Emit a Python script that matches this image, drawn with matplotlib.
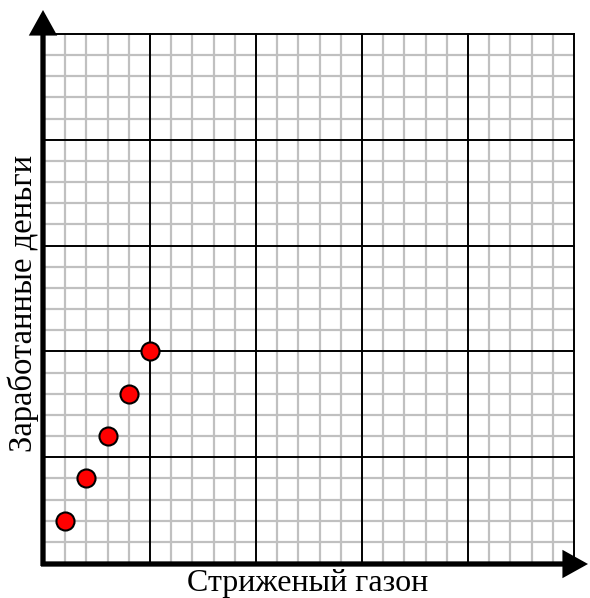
import matplotlib
matplotlib.use("Agg")
import matplotlib.pyplot as plt

# lawns mowed vs money earned
lawns = [1, 2, 3, 4, 5]
money = [2, 4, 6, 8, 10]
n_cells = 25
major_step = 5

W, H = 590, 598
fig = plt.figure(figsize=(W / 100, H / 100), dpi=100)
x0, x1, y0, y1 = 44, 574, 563, 34
ax = fig.add_axes([x0 / W, 1 - y0 / H, (x1 - x0) / W, (y0 - y1) / H])
ax.set_xlim(0, n_cells)
ax.set_ylim(0, n_cells)

for i in range(n_cells + 1):
    if i % major_step == 0:
        continue
    ax.axvline(i, color="#c0c0c0", lw=1.6, zorder=1)
    ax.axhline(i, color="#c0c0c0", lw=1.6, zorder=1)
for i in range(0, n_cells + 1, major_step):
    ax.axvline(i, color="black", lw=1.4, zorder=2, clip_on=False)
    ax.axhline(i, color="black", lw=1.4, zorder=2, clip_on=False)

ax.plot(lawns, money, "o", ms=13, mfc="#ff0000", mec="black", mew=1.5,
        zorder=5, clip_on=False)

for s in ax.spines.values():
    s.set_visible(False)
ax.set_xticks([])
ax.set_yticks([])

# axis arrows in figure pixels
def fx(px):
    return px / W

def fy(py):
    return 1 - py / H

arrow = dict(arrowstyle="-|>,head_length=0.9,head_width=0.5", lw=3.8,
             color="black", shrinkA=0, shrinkB=0, mutation_scale=14,
             joinstyle="miter", capstyle="butt")
fig.add_artist(matplotlib.patches.FancyArrowPatch(
    (fx(43), fy(566)), (fx(43), fy(10)), transform=fig.transFigure, **arrow))
fig.add_artist(matplotlib.patches.FancyArrowPatch(
    (fx(41), fy(564)), (fx(588), fy(564)), transform=fig.transFigure, **arrow))

fig.text(fx(308), fy(591), "Стриженый газон", family="Liberation Serif",
         fontsize=23, ha="center", va="baseline")
fig.text(fx(23), fy(303), "Заработанные деньги", family="Liberation Serif",
         fontsize=23.5, ha="center", va="center", rotation=90)

fig.savefig("out.png", dpi=100)
